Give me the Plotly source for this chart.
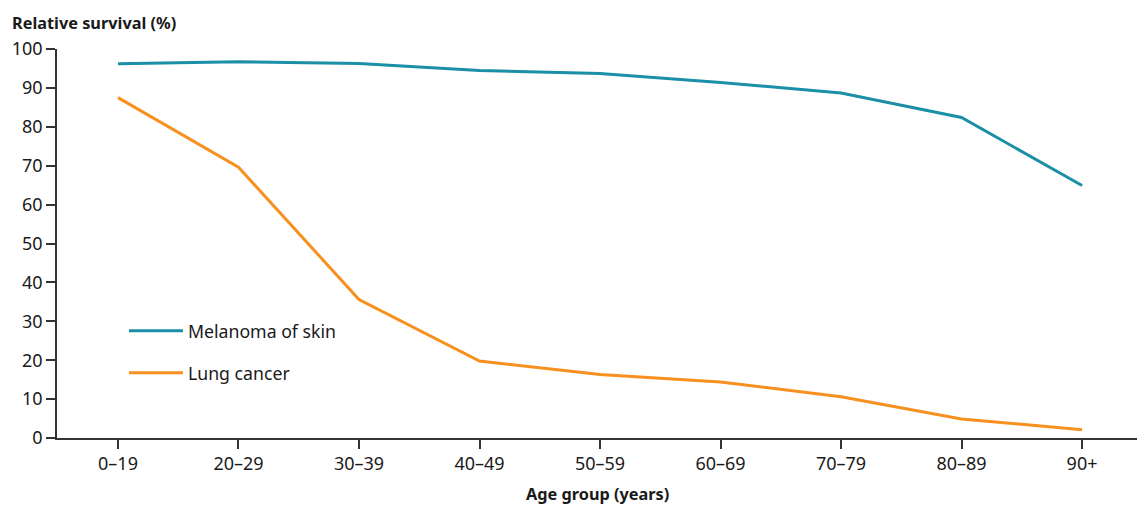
import plotly.graph_objects as go

age_groups = ["0–19", "20–29", "30–39", "40–49", "50–59", "60–69", "70–79", "80–89", "90+"]
melanoma = [96.2, 96.7, 96.3, 94.5, 93.7, 91.4, 88.7, 82.4, 64.9]
lung = [87.5, 69.6, 35.6, 19.8, 16.3, 14.4, 10.6, 4.9, 2.1]
y_ticks = [0, 10, 20, 30, 40, 50, 60, 70, 80, 90, 100]

TEAL = "#1a8fa6"
ORANGE = "#f7901e"
FONT = "Noto Sans"

fig = go.Figure()
fig.add_trace(go.Scatter(x=list(range(len(age_groups))), y=melanoma, mode="lines",
                         name="Melanoma of skin", legendgroup="a",
                         line=dict(color=TEAL, width=3)))
fig.add_trace(go.Scatter(x=list(range(len(age_groups))), y=lung, mode="lines",
                         name="Lung cancer", legendgroup="b",
                         line=dict(color=ORANGE, width=3)))

fig.update_layout(
    width=1137, height=505,
    margin=dict(l=57, r=0, t=49, b=67),
    paper_bgcolor="white", plot_bgcolor="white",
    font=dict(family=FONT, size=18, color="#1a1a1a"),
    showlegend=True,
    legend=dict(x=0.062, y=0.322, xanchor="left", yanchor="top",
                font=dict(size=17.7, family=FONT), bgcolor="rgba(0,0,0,0)",
                traceorder="grouped", tracegroupgap=16, itemwidth=54),
    xaxis=dict(
        range=[-0.506, 8.456],
        tickmode="array", tickvals=list(range(len(age_groups))), ticktext=age_groups,
        showline=True, linecolor="#333333", linewidth=1.5,
        ticks="outside", ticklen=9, tickcolor="#333333", tickwidth=1.5,
        showgrid=False, zeroline=False,
        tickfont=dict(size=18),
    ),
    yaxis=dict(
        range=[0, 100],
        tickmode="array", tickvals=y_ticks,
        showline=True, linecolor="#333333", linewidth=1.5,
        ticks="outside", ticklen=9, tickcolor="#333333", tickwidth=1.5,
        showgrid=False, zeroline=False,
        tickfont=dict(size=18),
    ),
    annotations=[
        dict(text="<b>Relative survival (%)</b>", xref="paper", yref="paper",
             x=-0.0435, y=1.0, yshift=26, xanchor="left", yanchor="middle",
             showarrow=False, font=dict(size=16.3, family=FONT)),
        dict(text="<b>Age group (years)</b>", xref="paper", yref="paper",
             x=0.5, y=0, yshift=-56, xanchor="center", yanchor="middle",
             showarrow=False, font=dict(size=16.3, family=FONT)),
    ],
)

fig.write_html("out.html", config={"displayModeBar": False},
               post_script="document.body.style.margin='0px';")
